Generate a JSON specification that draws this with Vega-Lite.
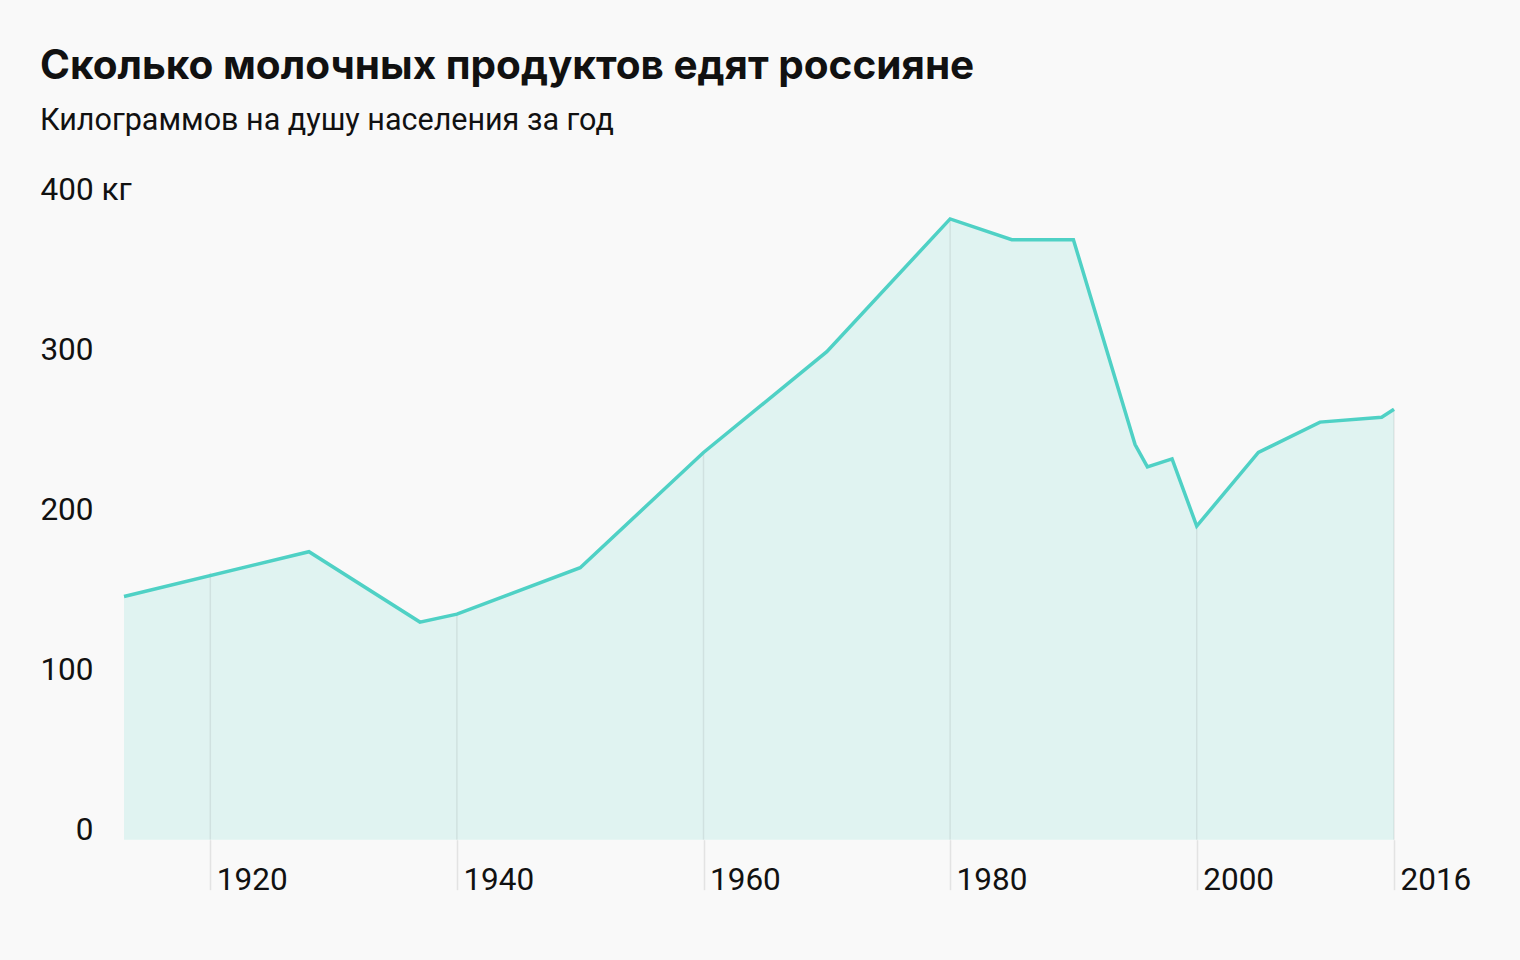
{
  "$schema": "https://vega.github.io/schema/vega-lite/v6.json",
  "autosize": "none",
  "width": 1270,
  "height": 640,
  "padding": {"left": 124, "top": 199.7, "right": 126, "bottom": 120.3},
  "background": "#f9f9f9",
  "config": {
    "view": {"stroke": null},
    "font": "Roboto"
  },
  "title": {
    "text": "Сколько молочных продуктов едят россияне",
    "subtitle": "Килограммов на душу населения за год",
    "anchor": "start",
    "frame": "group",
    "dx": -84,
    "font": "Inter",
    "fontSize": 40.5,
    "fontWeight": "bold",
    "color": "#111111",
    "subtitleFont": "Roboto",
    "subtitleFontSize": 30.5,
    "subtitleColor": "#111111",
    "subtitlePadding": 19,
    "offset": 38
  },
  "datasets": {
    "main": [
      {"year": 1913, "value": 152},
      {"year": 1928, "value": 180},
      {"year": 1937, "value": 136},
      {"year": 1940, "value": 141},
      {"year": 1950, "value": 170},
      {"year": 1960, "value": 242},
      {"year": 1970, "value": 305},
      {"year": 1980, "value": 388},
      {"year": 1985, "value": 375},
      {"year": 1990, "value": 375},
      {"year": 1995, "value": 247},
      {"year": 1996, "value": 233},
      {"year": 1998, "value": 238},
      {"year": 2000, "value": 196},
      {"year": 2005, "value": 242},
      {"year": 2010, "value": 261},
      {"year": 2015, "value": 264},
      {"year": 2016, "value": 269}
    ],
    "grid": [
      {"year": 1920, "value": 167},
      {"year": 1940, "value": 141},
      {"year": 1960, "value": 242},
      {"year": 1980, "value": 388},
      {"year": 2000, "value": 196},
      {"year": 2016, "value": 269}
    ]
  },
  "layer": [
    {
      "data": {"name": "main"},
      "mark": {"type": "area", "color": "#e0f3f1"},
      "encoding": {
        "x": {
          "field": "year",
          "type": "quantitative",
          "scale": {"domain": [1913, 2016], "nice": false, "zero": false},
          "axis": {
            "title": null,
            "values": [1920, 1940, 1960, 1980, 2000, 2016],
            "format": "d",
            "domain": false,
            "grid": false,
            "ticks": true,
            "tickSize": 50,
            "tickWidth": 1.5,
            "tickColor": "#e3e3e3",
            "labelAlign": "left",
            "labelBaseline": "alphabetic",
            "labelPadding": 0,
            "labelOffset": 6,
            "labelFont": "Roboto",
            "labelFontSize": 31.5,
            "labelColor": "#111111",
            "labelOverlap": false,
            "labelFlush": false,
            "labelBound": false
          }
        },
        "y": {
          "field": "value",
          "type": "quantitative",
          "scale": {"domain": [0, 400], "nice": false},
          "axis": {
            "title": null,
            "values": [0, 100, 200, 300, 400],
            "domain": false,
            "grid": false,
            "ticks": false,
            "labelAlign": {"condition": {"test": "datum.value == 400", "value": "left"}, "value": "right"},
            "labelPadding": {"condition": {"test": "datum.value == 400", "value": 84}, "value": 31},
            "labelBaseline": "alphabetic",
            "labelFont": "Roboto",
            "labelFontSize": 31.5,
            "labelColor": "#111111",
            "labelOverlap": false,
            "labelFlush": false,
            "labelBound": false,
            "labelExpr": "datum.value == 400 ? '400 кг' : datum.label"
          }
        }
      }
    },
    {
      "data": {"name": "grid"},
      "mark": {"type": "rule", "color": "#000000", "opacity": 0.07, "strokeWidth": 1.5},
      "encoding": {
        "x": {"field": "year", "type": "quantitative"},
        "y": {"field": "value", "type": "quantitative"},
        "y2": {"datum": 0}
      }
    },
    {
      "data": {"name": "main"},
      "mark": {"type": "line", "color": "#4fd1c5", "strokeWidth": 3.5},
      "encoding": {
        "x": {"field": "year", "type": "quantitative"},
        "y": {"field": "value", "type": "quantitative"}
      }
    }
  ]
}
